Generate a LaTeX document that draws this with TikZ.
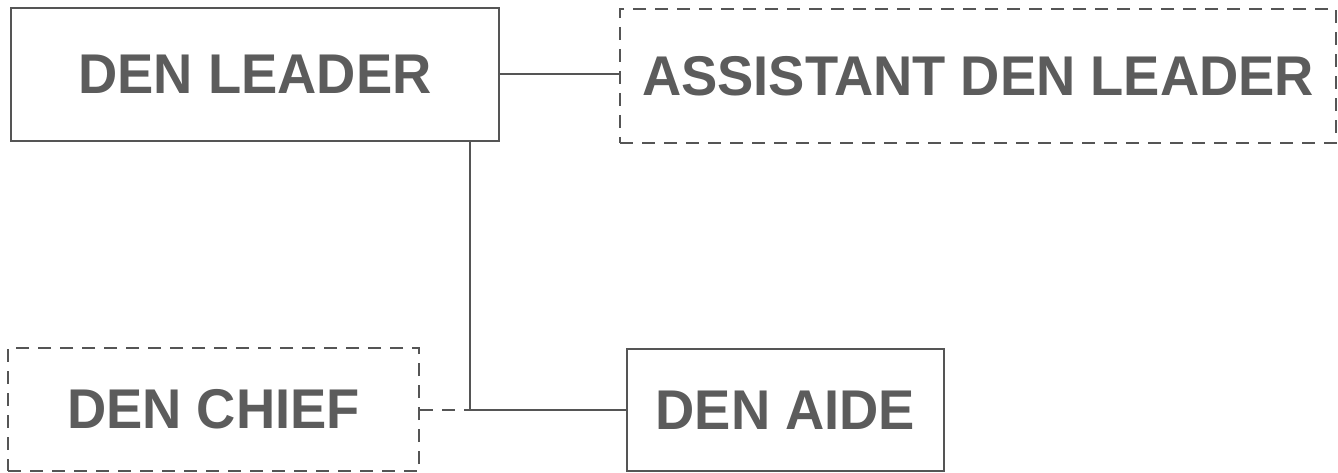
\documentclass[tikz,border=0pt]{standalone}
\usepackage{fontspec}
\setmainfont{Liberation Sans}
\definecolor{linegray}{HTML}{555555}
\definecolor{textgray}{HTML}{5C5C5C}
\tikzset{
  orgbox/.style={draw=linegray, line width=2.8pt, inner sep=0pt,
    font=\bfseries\fontsize{56}{56}\selectfont, text=textgray},
  dashbox/.style={orgbox, dash pattern=on 13pt off 9pt},
  link/.style={draw=linegray, line width=2.6pt},
  dashlink/.style={link, dash pattern=on 13pt off 9pt},
}
\newcommand{\wide}[1]{\scalebox{0.97}[1]{#1}}
\begin{document}
\begin{tikzpicture}[x=1pt,y=-1pt]
\useasboundingbox (0,0) rectangle (1338,473);
\node[orgbox, minimum width=488pt, minimum height=133pt] (dl) at (255,74.5) {\wide{DEN LEADER}};
\node[dashbox, minimum width=716pt, minimum height=134pt] (adl) at (978,76) {\wide{ASSISTANT DEN LEADER}};
\node[dashbox, minimum width=411pt, minimum height=123pt] (dc) at (213.5,409.5) {\wide{DEN CHIEF}};
\node[orgbox, minimum width=317pt, minimum height=122pt] (da) at (785.5,410) {\wide{DEN AIDE}};
\coordinate (j) at (470,410);
\draw[link] (dl.east |- 0,74) -- (adl.west |- 0,74);
\draw[link] (dl.south -| j) -- (j) -- (da.west |- j);
\draw[dashlink] (dc.east |- j) -- (j);
\end{tikzpicture}
\end{document}
